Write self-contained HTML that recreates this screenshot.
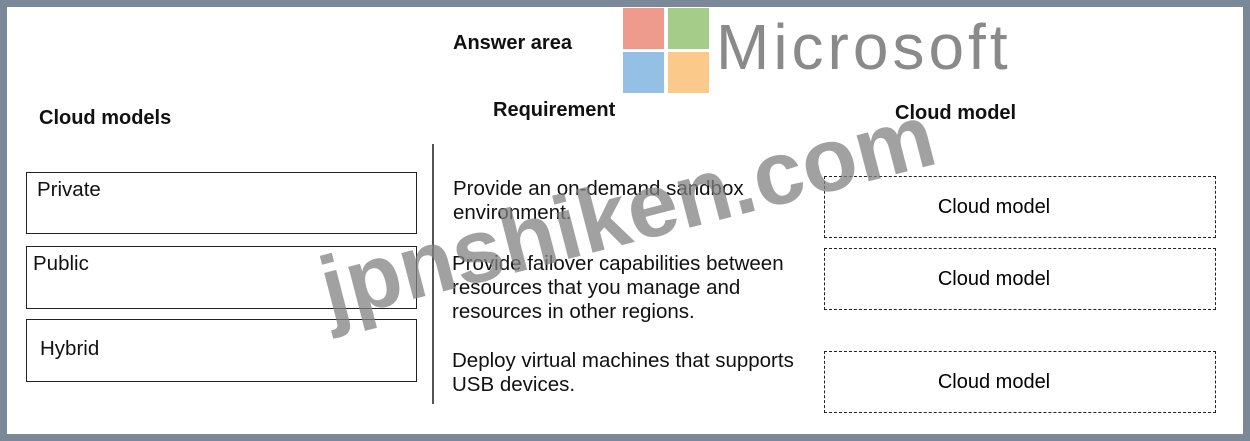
<!DOCTYPE html>
<html><head><meta charset="utf-8"><style>
body{margin:0;width:1250px;height:441px;overflow:hidden;background:#7a8898;font-family:"Liberation Sans",Arial,sans-serif;}
.in{position:absolute;left:7px;top:7px;width:1236px;height:427px;background:#fff;}
.a{position:absolute;color:#111;white-space:nowrap;}
.b{font-weight:bold;font-size:20px;}
.t{font-size:20.5px;line-height:24px;}
.box{position:absolute;border:1.5px solid #222;box-sizing:border-box;}
.d{position:absolute;border:1.5px dashed #222;box-sizing:border-box;font-size:20px;text-align:center;padding-right:52px;}
.sq{position:absolute;width:41px;height:41px;}
</style></head><body>
<div class="in"></div>
<div class="sq" style="left:623px;top:8px;background:#ee9a8c"></div>
<div class="sq" style="left:668px;top:8px;background:#a6cc8a"></div>
<div class="sq" style="left:623px;top:52px;background:#94c0e6"></div>
<div class="sq" style="left:668px;top:52px;background:#fbc98a"></div>
<div class="a" style="left:716px;top:12px;font-size:64px;letter-spacing:4px;color:#8a8a8a;line-height:70px;">Microsoft</div>
<div class="a b" style="left:453px;top:32px;">Answer area</div>
<div class="a b" style="left:39px;top:107px;">Cloud models</div>
<div class="a b" style="left:493px;top:99px;">Requirement</div>
<div class="a b" style="left:895px;top:102px;">Cloud model</div>
<div class="box" style="left:26px;top:172px;width:391px;height:62px;"></div>
<div class="a t" style="left:37px;top:178px;">Private</div>
<div class="box" style="left:26px;top:246px;width:391px;height:63px;"></div>
<div class="a t" style="left:33px;top:252px;">Public</div>
<div class="box" style="left:26px;top:319px;width:391px;height:63px;"></div>
<div class="a t" style="left:40px;top:337px;">Hybrid</div>
<div style="position:absolute;left:432px;top:144px;width:1.5px;height:260px;background:#555;"></div>
<div class="a t" style="left:453px;top:177px;">Provide an on-demand sandbox<br>environment.</div>
<div class="a t" style="left:452px;top:252px;">Provide failover capabilities between<br>resources that you manage and<br>resources in other regions.</div>
<div class="a t" style="left:452px;top:349px;">Deploy virtual machines that supports<br>USB devices.</div>
<div class="d" style="left:824px;top:176px;width:392px;height:62px;line-height:60px;">Cloud model</div>
<div class="d" style="left:824px;top:248px;width:392px;height:62px;line-height:60px;">Cloud model</div>
<div class="d" style="left:824px;top:351px;width:392px;height:62px;line-height:60px;">Cloud model</div>
<div class="a" style="left:335px;top:240px;font-size:90px;font-weight:bold;color:rgba(130,130,130,0.75);transform:rotate(-14.5deg);transform-origin:0 100%;line-height:100px;">jpnshiken.com</div>
</body></html>
